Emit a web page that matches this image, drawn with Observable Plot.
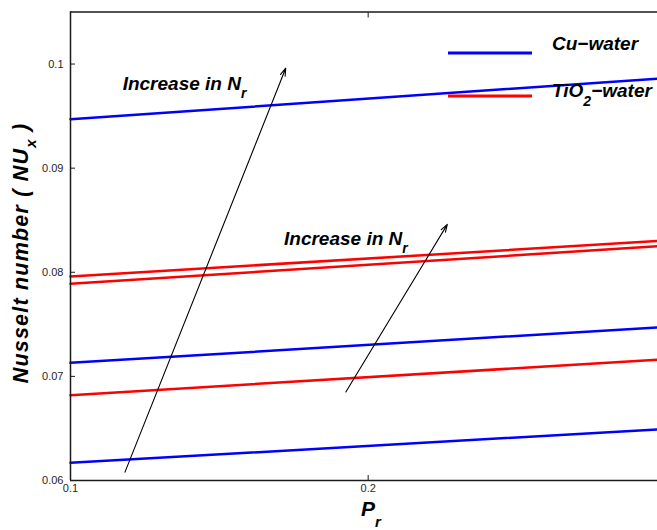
<!DOCTYPE html>
<html><head><meta charset="utf-8">
<script src="https://cdn.jsdelivr.net/npm/d3@7"></script>
<script src="https://cdn.jsdelivr.net/npm/@observablehq/plot@0.6"></script>
<style>
body{margin:0;background:#fff;}
#wrap{position:relative;width:657px;height:530px;overflow:hidden;}
#wrap svg{position:absolute;left:0;top:0;}
</style></head><body><div id="wrap"></div>
<script>
// Data
const prValues = [0.1, 0.2972];
const cuLow  = [0.0617, 0.0649];
const cuMid  = [0.0713, 0.0747];
const cuHigh = [0.0947, 0.0986];
const tiLow  = [0.0682, 0.0716];
const tiMid  = [0.0789, 0.0825];
const tiHigh = [0.0796, 0.0830];
const xTicks = [0.1, 0.2];
const yTicks = [0.06, 0.07, 0.08, 0.09, 0.1];
const xDomain = [0.1, 0.2972];
const yDomain = [0.06, 0.105];
const arrowX1 = [0.1183, 0.1925];
const arrowY1 = [0.0608, 0.0685];
const arrowX2 = [0.1723, 0.2266];
const arrowY2 = [0.0996, 0.0846];
const noteX = [0.1177, 0.1719];
const noteY = [0.0975, 0.0826];
const legendNames = ["Cu\u2212water", "TiO", "2", "\u2212water"];
const blue = "#0000ff", red = "#ff0000";

const series = [
  {name: "cuLow", fluid: "Cu", v: cuLow},
  {name: "cuMid", fluid: "Cu", v: cuMid},
  {name: "cuHigh", fluid: "Cu", v: cuHigh},
  {name: "tiLow", fluid: "Ti", v: tiLow},
  {name: "tiMid", fluid: "Ti", v: tiMid},
  {name: "tiHigh", fluid: "Ti", v: tiHigh}
];
const rows = series.flatMap(s => s.v.map((y, i) => ({series: s.name, fluid: s.fluid, x: prValues[i], y})));
const arrows = arrowX1.map((x, i) => ({x1: x, y1: arrowY1[i], x2: arrowX2[i], y2: arrowY2[i]}));

const font = "'Liberation Sans', Arial, Helvetica, sans-serif";

const plot = Plot.plot({
  width: 657, height: 530,
  marginLeft: 70, marginRight: 0, marginTop: 11.5, marginBottom: 50,
  style: {fontFamily: font, fontSize: "11px", color: "#262626", background: "white"},
  x: {domain: xDomain},
  y: {domain: yDomain},
  marks: [
    Plot.line(rows.filter(d => d.fluid === "Ti"), {x: "x", y: "y", z: "series", stroke: red, strokeWidth: 2.5}),
    Plot.line(rows.filter(d => d.fluid === "Cu"), {x: "x", y: "y", z: "series", stroke: blue, strokeWidth: 2.5}),
    Plot.arrow(arrows, {x1: "x1", y1: "y1", x2: "x2", y2: "y2", stroke: "black", strokeWidth: 1.1, headLength: 11, headAngle: 35}),
    Plot.ruleY([yDomain[0], yDomain[1]], {stroke: "#1a1a1a", strokeWidth: 1.5}),
    Plot.ruleX([xDomain[0]], {stroke: "#1a1a1a", strokeWidth: 1.5}),
    Plot.axisY(yTicks, {anchor: "left", tickSize: -5, tickPadding: 12, tickFormat: d => String(d), label: null, stroke: "#1a1a1a"}),
    Plot.axisX(xTicks, {anchor: "bottom", tickSize: -5, tickPadding: 9, tickFormat: d => String(d), label: null, stroke: "#1a1a1a"}),
    Plot.axisX(xTicks, {anchor: "top", tickSize: -5, tickFormat: () => "", label: null, stroke: "#1a1a1a"})
  ]
});
const wrap = document.getElementById("wrap");
wrap.appendChild(plot);

const sx = plot.scale("x"), sy = plot.scale("y");
const svg = d3.select(wrap).append("svg")
  .attr("width", 657).attr("height", 530)
  .style("font-family", font).style("font-weight", "bold").style("font-style", "italic")
  .style("pointer-events", "none");

// Annotations "Increase in N_r"
noteX.forEach((x, i) => {
  const t = svg.append("text")
    .attr("x", sx.apply(x)).attr("y", sy.apply(noteY[i]))
    .attr("font-size", 19).attr("fill", "black");
  t.append("tspan").text("Increase in N");
  t.append("tspan").attr("font-size", 14).attr("dy", 8.5).text("r");
});

// Legend
svg.append("line").attr("x1", 448).attr("x2", 532).attr("y1", 53).attr("y2", 53).attr("stroke", blue).attr("stroke-width", 3);
svg.append("line").attr("x1", 448).attr("x2", 532).attr("y1", 96).attr("y2", 96).attr("stroke", red).attr("stroke-width", 3);
svg.append("text").attr("x", 552).attr("y", 50).attr("font-size", 19).text(legendNames[0]);
const lt = svg.append("text").attr("x", 552).attr("y", 97).attr("font-size", 19);
lt.append("tspan").text(legendNames[1]);
lt.append("tspan").attr("font-size", 14).attr("dy", 9).text(legendNames[2]);
lt.append("tspan").attr("dy", -9).text(legendNames[3]);

// Y axis title
const yt = svg.append("text")
  .attr("transform", "translate(28,253) rotate(-90)")
  .attr("text-anchor", "middle").attr("font-size", 21.5).attr("letter-spacing", 1.2);
yt.append("tspan").text("Nusselt number ( NU");
yt.append("tspan").attr("font-size", 15).attr("dy", 8).text("x");
yt.append("tspan").attr("dy", -8).text(" )");

// X axis title
const xt = svg.append("text").attr("x", 361).attr("y", 516).attr("font-size", 21);
xt.append("tspan").text("P");
xt.append("tspan").attr("font-size", 15).attr("dy", 11).text("r");
</script>
</body></html>
